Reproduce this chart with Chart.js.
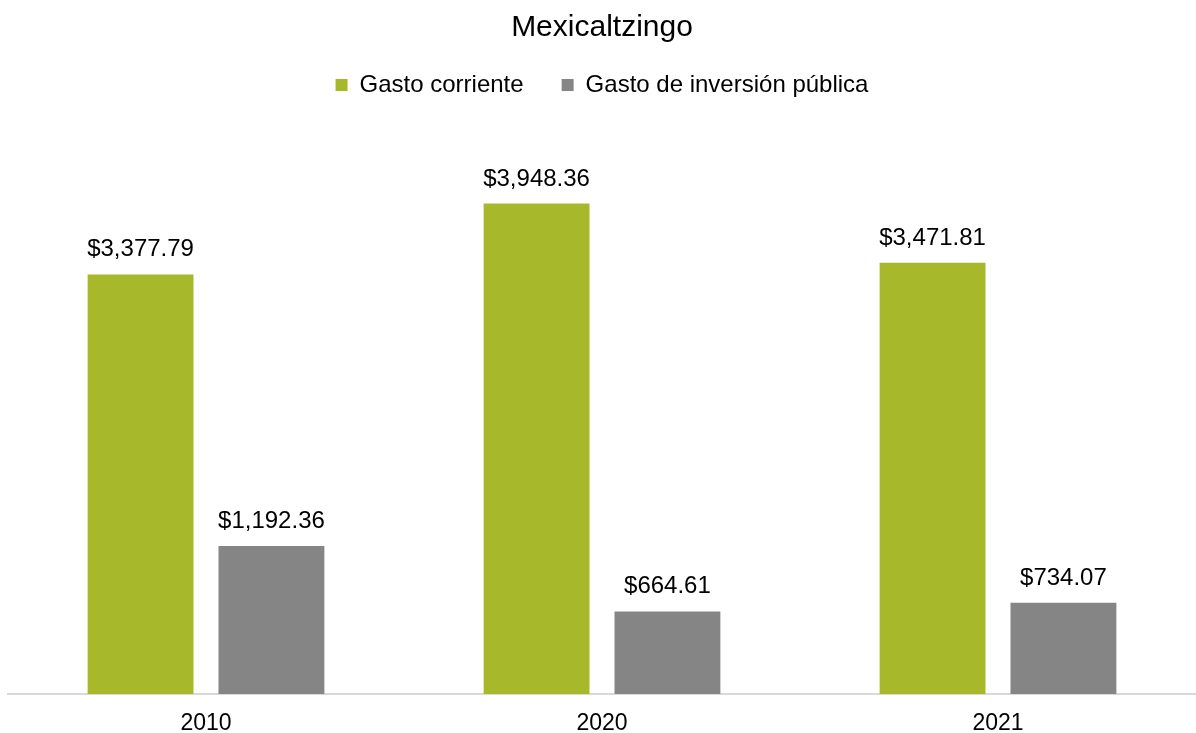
<!DOCTYPE html>
<html>
<head>
<meta charset="utf-8">
<script src="https://cdn.jsdelivr.net/npm/chart.js@4.4.1/dist/chart.umd.min.js"></script>
<style>
  html, body { margin: 0; padding: 0; background: #ffffff; }
  #c { display: block; }
</style>
</head>
<body>
<canvas id="c" width="1196" height="733"></canvas>
<script>
const chartTitle = "Mexicaltzingo";
const categories = ["2010", "2020", "2021"];
const seriesNames = ["Gasto corriente", "Gasto de inversión pública"];
const gastoCorriente = [3377.79, 3948.36, 3471.81];
const gastoInversion = [1192.36, 664.61, 734.07];
const seriesColors = ["#A8B82B", "#858585"];
const yMax = 4500;

const FONT = "'Liberation Sans', Arial, sans-serif";

function fmt(v) {
  return "$" + v.toLocaleString("en-US", { minimumFractionDigits: 2, maximumFractionDigits: 2 });
}

const legendSpacer = {
  id: "legendSpacer",
  beforeInit(chart) {
    const orig = chart.legend.fit;
    chart.legend.fit = function () {
      orig.bind(chart.legend)();
      this.height += 28;
    };
  }
};

const dataLabels = {
  id: "dataLabels",
  afterDatasetsDraw(chart) {
    const ctx = chart.ctx;
    ctx.save();
    ctx.font = "24px " + FONT;
    ctx.fillStyle = "#000000";
    ctx.textAlign = "center";
    ctx.textBaseline = "alphabetic";
    chart.data.datasets.forEach((ds, di) => {
      const meta = chart.getDatasetMeta(di);
      meta.data.forEach((el, i) => {
        ctx.fillText(fmt(ds.data[i]), el.x, el.y - 18);
      });
    });
    ctx.restore();
  }
};

new Chart(document.getElementById("c"), {
  type: "bar",
  data: {
    labels: categories,
    datasets: [
      { label: seriesNames[0], data: gastoCorriente, backgroundColor: seriesColors[0] },
      { label: seriesNames[1], data: gastoInversion, backgroundColor: seriesColors[1] }
    ]
  },
  options: {
    responsive: false,
    devicePixelRatio: 1,
    animation: false,
    categoryPercentage: 0.661,
    barPercentage: 0.809,
    layout: { padding: { left: 8, right: 0, top: 0, bottom: -20 } },
    plugins: {
      title: {
        display: true,
        text: chartTitle,
        color: "#000000",
        font: { family: FONT, size: 30, weight: "normal", lineHeight: 1.2 },
        padding: { top: 10, bottom: -11 }
      },
      legend: {
        display: true,
        position: "top",
        labels: {
          color: "#000000",
          font: { family: FONT, size: 24 },
          boxWidth: 12,
          boxHeight: 12,
          padding: 38
        }
      },
      tooltip: { enabled: false }
    },
    scales: {
      x: {
        grid: { display: false, drawTicks: false },
        border: { display: true, color: "#D9D9D9", width: 2 },
        ticks: {
          color: "#000000",
          font: { family: FONT, size: 23, lineHeight: 1 },
          padding: 18
        }
      },
      y: {
        display: false,
        min: 0,
        max: yMax
      }
    }
  },
  plugins: [legendSpacer, dataLabels]
});
</script>
</body>
</html>
